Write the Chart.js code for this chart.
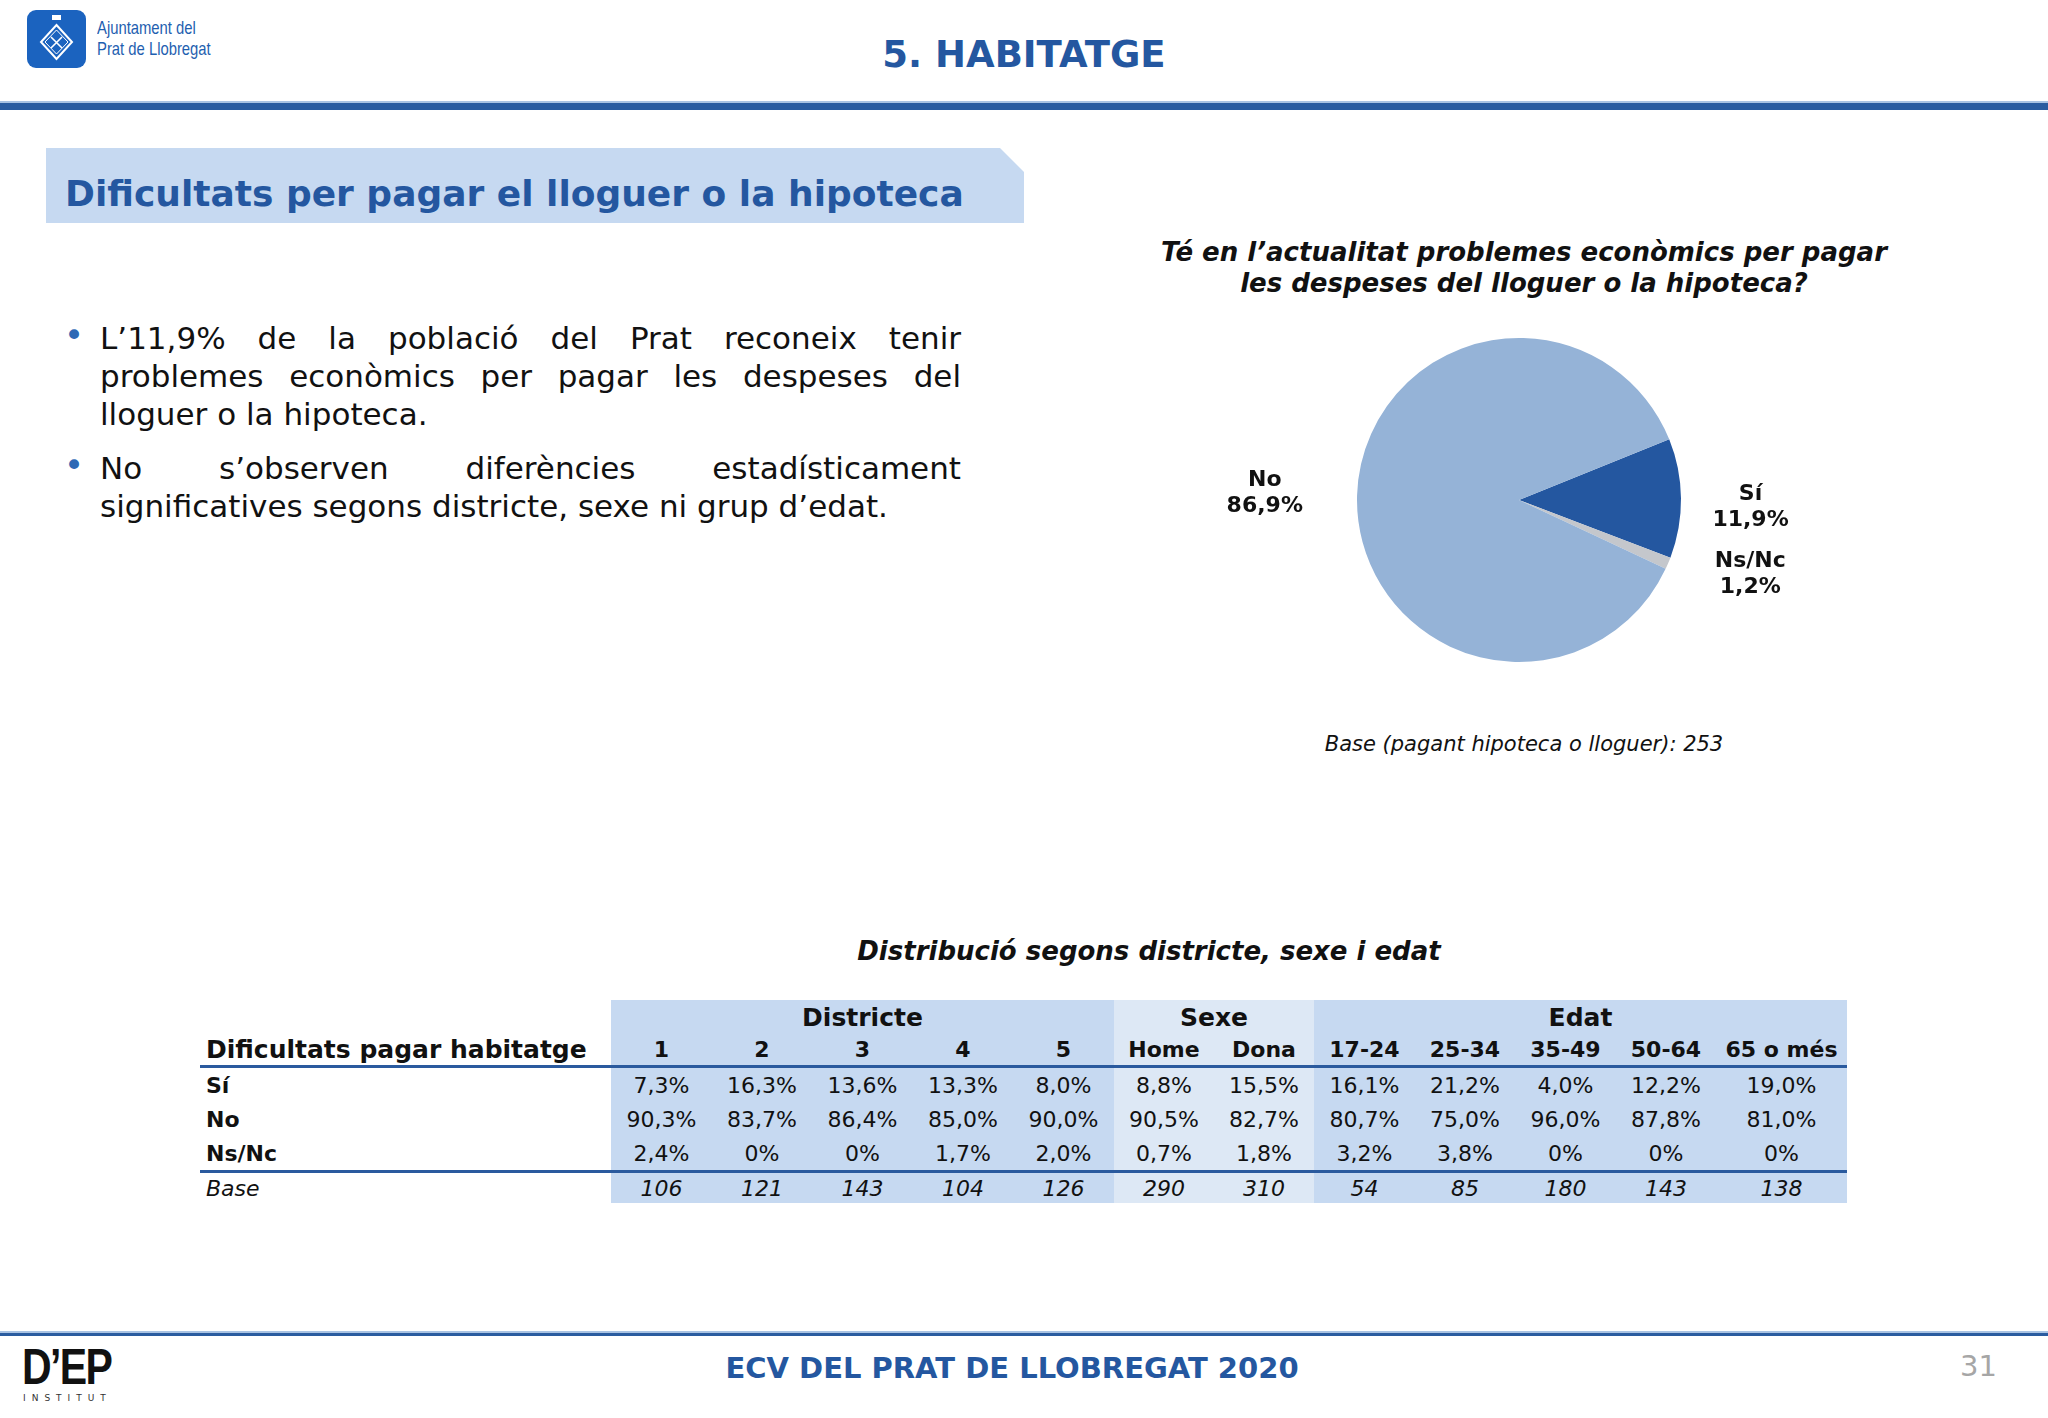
<!DOCTYPE html>
<html>
<head>
<meta charset="utf-8">
<script src="https://cdn.jsdelivr.net/npm/chart.js"></script>
<style>
  body { margin: 0; width: 2048px; height: 1418px; background: #fff; position: relative; overflow: hidden;
         font-family: "DejaVu Sans", Verdana, sans-serif; color: #111; }
  .abs { position: absolute; }
  #logoBox { left: 27px; top: 10px; width: 59px; height: 58px; background: #1b63bf; border-radius: 9px; }
  #logoText { left: 97px; top: 17px; font-family: "Liberation Sans", sans-serif; font-size: 19px;
              line-height: 21px; color: #1f5fb0; transform: scaleX(0.78); transform-origin: 0 0; }
  #pageTitle { left: 0; width: 2048px; top: 33px; text-align: center; font-weight: bold; font-size: 37px; color: #2457a0; }
  #topRule { left: 0; top: 101px; width: 2048px; height: 7px; background: #2a5ca0; border-top: 2px solid #a9c3e3; }
  #section { left: 46px; top: 148px; width: 978px; height: 75px; background: #c6d9f1;
             clip-path: polygon(0 0, 954px 0, 978px 24px, 978px 100%, 0 100%); }
  #sectionText { left: 65px; top: 173px; font-weight: bold; font-size: 36px; color: #2457a0; }
  #bullets { left: 100px; top: 319px; width: 861px; font-size: 31px; line-height: 38px; text-align: justify; color: #111; }
  #bullets p { margin: 0 0 16px 0; position: relative; }
  #bullets p::before { content: "\2022"; position: absolute; left: -36px; top: -3px; color: #2d6ab5; font-size: 34px; }
  #pieTitle { left: 1100px; width: 848px; top: 237px; text-align: center; font-weight: bold; font-style: italic;
              font-size: 26px; line-height: 31px; }
  #pieBase { left: 1100px; width: 848px; top: 732px; text-align: center; font-style: italic; font-size: 21px; }
  #pieCanvas { left: 1119px; top: 330px; }
  #tableTitle { left: 649px; width: 1000px; top: 936px; text-align: center; font-weight: bold; font-style: italic; font-size: 26px; }
  #stats { left: 200px; top: 1000px; border-collapse: collapse; table-layout: fixed; font-size: 22px; }
  #stats td { height: 34px; padding: 0; text-align: center; white-space: nowrap; }
  #stats td.lab { text-align: left; padding-left: 6px; font-weight: bold; background: #fff; }
  #stats .d { background: #c6d9f1; }
  #stats .s { background: #dde8f5; }
  #stats .e { background: #c6d9f1; }
  #stats tr.h1 td { font-weight: bold; font-size: 25px; }
  #stats tr.h2 td { height: 31px; font-weight: bold; border-bottom: 3px solid #2a5a9e; }
  #stats tr.base td { height: 30px; font-style: italic; border-top: 3px solid #2a5a9e; }
  #stats tr.base td.lab { font-weight: normal; }
  #footRule { left: 0; top: 1331px; width: 2048px; height: 3px; background: #2a5ca0; border-top: 2px solid #a9c3e3; }
  #footText { left: 0; width: 2024px; top: 1351px; text-align: center; font-weight: bold; font-size: 29px; color: #2457a0; }
  #pageNum { left: 1960px; top: 1349px; font-size: 29px; color: #a6a6a6; }
  #dep { left: 22px; top: 1347px; font-family: "Liberation Sans", sans-serif; font-weight: bold; font-size: 50px;
         letter-spacing: -2px; color: #111; line-height: 40px; height: 40px; transform: scaleX(0.82); transform-origin: 0 0; }
  #dep span { color: #2e7d46; }
  #depSub { left: 23px; top: 1393px; font-size: 9px; line-height: 11px; letter-spacing: 6px; color: #333; }
</style>
</head>
<body>

<div class="abs" id="logoBox">
  <svg width="59" height="58" viewBox="0 0 59 58">
    <path d="M29.5 15 L45 32 L29.5 49 L14 32 Z" fill="none" stroke="#fff" stroke-width="2"/>
    <path d="M29.5 20 L41 32 L29.5 44 L18 32 Z" fill="none" stroke="#fff" stroke-width="1"/>
    <path d="M24 27 L35 38 M35 27 L24 38" stroke="#fff" stroke-width="1.6"/>
    <rect x="25" y="5" width="9" height="5" fill="#fff"/>
  </svg>
</div>
<div class="abs" id="logoText">Ajuntament del<br>Prat de Llobregat</div>
<div class="abs" id="pageTitle">5. HABITATGE</div>
<div class="abs" id="topRule"></div>

<div class="abs" id="section"></div>
<div class="abs" id="sectionText">Dificultats per pagar el lloguer o la hipoteca</div>

<div class="abs" id="bullets">
  <p>L’11,9% de la població del Prat reconeix tenir problemes econòmics per pagar les despeses del lloguer o la hipoteca.</p>
  <p>No s’observen diferències estadísticament significatives segons districte, sexe ni grup d’edat.</p>
</div>

<div class="abs" id="pieTitle">Té en l’actualitat problemes econòmics per pagar<br>les despeses del lloguer o la hipoteca?</div>
<canvas class="abs" id="pieCanvas" width="800" height="340"></canvas>
<div class="abs" id="pieBase">Base (pagant hipoteca o lloguer): 253</div>

<div class="abs" id="tableTitle">Distribució segons districte, sexe i edat</div>
<table class="abs" id="stats"></table>

<div class="abs" id="footRule"></div>
<div class="abs" id="footText">ECV DEL PRAT DE LLOBREGAT 2020</div>
<div class="abs" id="pageNum">31</div>
<div class="abs" id="dep">D’EP</div>
<div class="abs" id="depSub">INSTITUT</div>

<script>
// pie data
const pieLabels = ["Sí", "Ns/Nc", "No"];
const pieValues = [11.9, 1.2, 86.9];
const pieColors = ["#2457a0", "#c4c7cc", "#95b3d7"];

// table data
const groupNames = ["Districte", "Sexe", "Edat"];
const groupSizes = [5, 2, 5];
const groupClass = ["d", "s", "e"];
const colLabels = ["1", "2", "3", "4", "5", "Home", "Dona", "17-24", "25-34", "35-49", "50-64", "65 o més"];
const rowLabels = ["Sí", "No", "Ns/Nc"];
const rowSi   = [7.3, 16.3, 13.6, 13.3, 8.0, 8.8, 15.5, 16.1, 21.2, 4.0, 12.2, 19.0];
const rowNo   = [90.3, 83.7, 86.4, 85.0, 90.0, 90.5, 82.7, 80.7, 75.0, 96.0, 87.8, 81.0];
const rowNsNc = [2.4, 0, 0, 1.7, 2.0, 0.7, 1.8, 3.2, 3.8, 0, 0, 0];
const baseCounts = [106, 121, 143, 104, 126, 290, 310, 54, 85, 180, 143, 138];

function pct(v) {
    if (v === 0) return "0%";
    return v.toFixed(1).replace(".", ",") + "%";
}

// build table
function buildTable() {
    let colWidths = [411, 101, 100, 101, 100, 101, 100, 100, 101, 100, 101, 100, 131];
    let cls = [];
    groupSizes.forEach((n, g) => { for (let i = 0; i < n; i++) cls.push(groupClass[g]); });

    let html = "<colgroup>" + colWidths.map(w => `<col style="width:${w}px">`).join("") + "</colgroup>";
    html += '<tr class="h1"><td class="lab"></td>';
    groupNames.forEach((name, g) => {
        html += `<td class="${groupClass[g]}" colspan="${groupSizes[g]}">${name}</td>`;
    });
    html += "</tr>";
    html += '<tr class="h2"><td class="lab" style="font-size:25px">Dificultats pagar habitatge</td>';
    colLabels.forEach((c, i) => { html += `<td class="${cls[i]}">${c}</td>`; });
    html += "</tr>";

    [rowSi, rowNo, rowNsNc].forEach((row, r) => {
        html += `<tr><td class="lab">${rowLabels[r]}</td>`;
        row.forEach((v, i) => { html += `<td class="${cls[i]}">${pct(v)}</td>`; });
        html += "</tr>";
    });

    html += '<tr class="base"><td class="lab">Base</td>';
    baseCounts.forEach((v, i) => { html += `<td class="${cls[i]}">${v}</td>`; });
    html += "</tr>";
    document.getElementById("stats").innerHTML = html;
}

// labels next to the slices
const sliceLabels = {
    id: "sliceLabels",
    afterDatasetsDraw(chart) {
        let ctx = chart.ctx;
        let arcs = chart.getDatasetMeta(0).data;
        let dist = [1.43, 1.5, 1.57];
        let nudge = [0.04, -0.09, 0];
        ctx.save();
        ctx.font = "bold 22px 'DejaVu Sans'";
        ctx.fillStyle = "#111";
        ctx.textAlign = "center";
        ctx.textBaseline = "middle";
        arcs.forEach((arc, i) => {
            let p = arc.getProps(["x", "y", "startAngle", "endAngle", "outerRadius"], true);
            let mid = (p.startAngle + p.endAngle) / 2 + nudge[i];
            let x = p.x + Math.cos(mid) * p.outerRadius * dist[i];
            let y = p.y + Math.sin(mid) * p.outerRadius * dist[i];
            ctx.fillText(pieLabels[i], x, y - 13);
            ctx.fillText(pct(pieValues[i]), x, y + 13);
        });
        ctx.restore();
    }
};

function drawPie() {
    let ctx = document.getElementById("pieCanvas").getContext("2d");
    new Chart(ctx, {
        type: "pie",
        data: {
            labels: pieLabels,
            datasets: [{
                data: pieValues,
                backgroundColor: pieColors,
                borderWidth: 0
            }]
        },
        options: {
            responsive: false,
            animation: false,
            radius: 162,
            rotation: 68,
            plugins: {
                legend: { display: false },
                tooltip: { enabled: false }
            }
        },
        plugins: [sliceLabels]
    });
}

buildTable();
drawPie();
</script>
</body>
</html>
